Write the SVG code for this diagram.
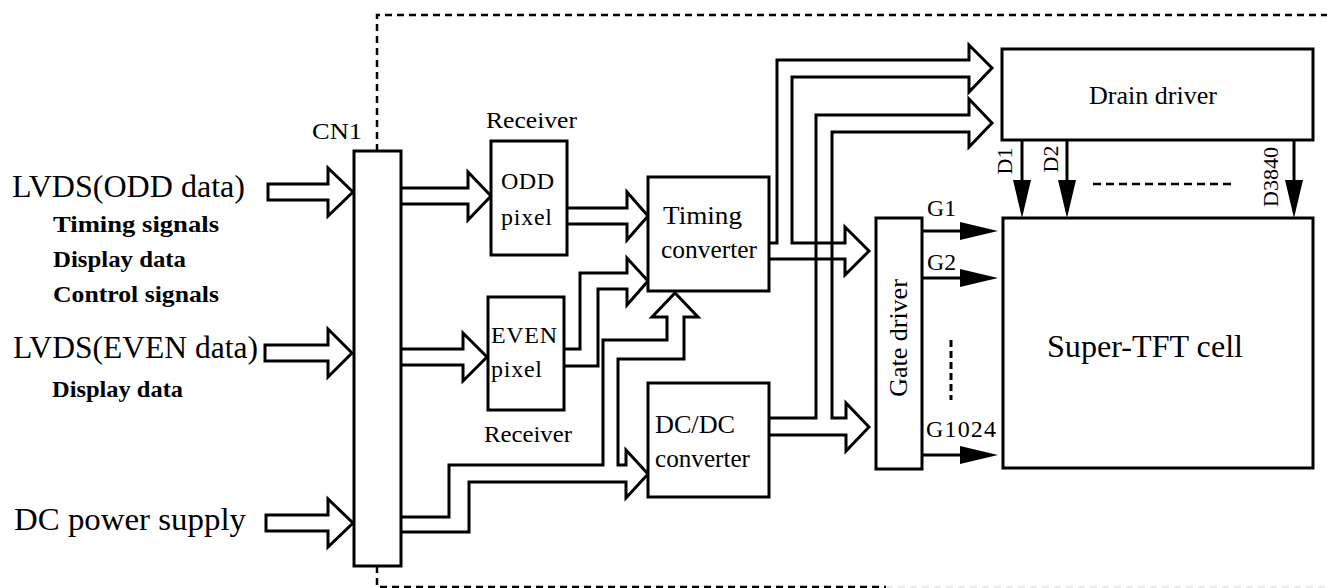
<svg xmlns="http://www.w3.org/2000/svg" width="1327" height="588" viewBox="0 0 1327 588">
<style>
.box{fill:#fff;stroke:#000;stroke-width:3}
.pipe{fill:none;stroke:#000;stroke-width:3;stroke-linejoin:miter}
.blk{fill:#fff;stroke:#000;stroke-width:3;stroke-linejoin:miter}
.ln{fill:none;stroke:#000;stroke-width:3}
.dash{fill:none;stroke:#000;stroke-width:2.5;stroke-dasharray:7 5}
.tri{fill:#000;stroke:none}
text{font-family:"Liberation Serif","Times New Roman",serif;fill:#000}
.big{font-size:31px}
.sub{font-size:24px;font-weight:bold}
.lbl{font-size:24px}
.mid{font-size:26px}
.cell{font-size:32px}
.gl{font-size:24px}
.dl{font-size:22px}
</style>
<rect width="1327" height="588" fill="#fff"/>

<g id="border">
<path class="dash" d="M377,151 V15 H1327"/>
<path class="dash" d="M377,566 V587 H886"/>
<path d="M886,587 H1327" fill="none" stroke="#ececec" stroke-width="2.5" stroke-dasharray="7 5"/>
</g>

<g id="connectors">
<polygon class="blk" points="268,184 328,184 328,168 353,192 328,216 328,200 268,200"/>
<polygon class="blk" points="265,345 328,345 328,329 352,353 328,377 328,361 265,361"/>
<polygon class="blk" points="266,515 328,515 328,499 353,523 328,547 328,531 266,531"/>
<polyline class="pipe" points="401,188 468,188 468,172 491,196 468,220 468,204 401,204"/>
<polyline class="pipe" points="567,208 627,208 627,192 648,216 627,240 627,224 567,224"/>
<polyline class="pipe" points="401,349 463,349 463,333 487,357 463,381 463,365 401,365"/>
<polyline class="pipe" points="564,349 580,349 580,273 627,273 627,258 648,281 627,305 627,289 598,289 598,366 564,366"/>
<polyline class="pipe" points="401,517 449,517 449,465 603,465 603,340 667,340 667,317 652,317 675,293 698,317 684,317 684,359 618,359 618,465 626,465 626,450 648,474 626,498 626,482 469,482 469,532 401,532"/>
<polyline class="pipe" points="769,243 777,243 777,60 969,60 969,45 992,68 969,92 969,77 792,77 792,243 845,243 845,227 869,251 845,275 845,259 769,259"/>
<polyline class="pipe" points="769,418 816,418 816,115 969,115 969,99 992,123 969,147 969,132 832,132 832,418 846,418 846,403 869,427 846,451 846,435 769,435"/>
<line class="ln" x1="922" y1="231" x2="962" y2="231"/>
<polygon class="tri" points="960,222 998,231 960,240"/>
<line class="ln" x1="922" y1="278" x2="962" y2="278"/>
<polygon class="tri" points="960,269 998,278 960,287"/>
<line class="ln" x1="922" y1="455" x2="962" y2="455"/>
<polygon class="tri" points="960,446 998,455 960,464"/>
<line x1="951" y1="340" x2="951" y2="400" stroke="#000" stroke-width="3" stroke-dasharray="7 4"/>
<line class="ln" x1="1022" y1="140" x2="1022" y2="182"/>
<polygon class="tri" points="1013,180 1031,180 1022,218"/>
<line class="ln" x1="1067" y1="140" x2="1067" y2="182"/>
<polygon class="tri" points="1058,180 1076,180 1067,218"/>
<line class="ln" x1="1294" y1="140" x2="1294" y2="182"/>
<polygon class="tri" points="1285,180 1303,180 1294,218"/>
<line x1="1093" y1="184" x2="1233" y2="184" stroke="#000" stroke-width="2.5" stroke-dasharray="8 5"/>
</g>

<g id="inputs">
<text class="big" x="12" y="197" textLength="233" lengthAdjust="spacingAndGlyphs">LVDS(ODD data)</text>
<text class="sub" x="53" y="232" textLength="166" lengthAdjust="spacingAndGlyphs">Timing signals</text>
<text class="sub" x="53" y="267" textLength="133" lengthAdjust="spacingAndGlyphs">Display data</text>
<text class="sub" x="53" y="302" textLength="166" lengthAdjust="spacingAndGlyphs">Control signals</text>
<text class="big" x="13" y="358" textLength="245" lengthAdjust="spacingAndGlyphs">LVDS(EVEN data)</text>
<text class="sub" x="52" y="397" textLength="131" lengthAdjust="spacingAndGlyphs">Display data</text>
<text class="big" x="14" y="530" textLength="232" lengthAdjust="spacingAndGlyphs">DC power supply</text>
</g>

<g id="cn1">
<rect class="box" x="354" y="151" width="47" height="415"/>
<text class="lbl" x="312" y="139" textLength="50" lengthAdjust="spacingAndGlyphs">CN1</text>
</g>

<g id="odd-receiver">
<rect class="box" x="491" y="141" width="76" height="114"/>
<text class="lbl" x="486" y="128" textLength="91" lengthAdjust="spacingAndGlyphs">Receiver</text>
<text class="lbl" x="501" y="189" textLength="53" lengthAdjust="spacing">ODD</text>
<text class="lbl" x="501" y="225" textLength="51" lengthAdjust="spacing">pixel</text>
</g>

<g id="even-receiver">
<rect class="box" x="488" y="297" width="76" height="113"/>
<text class="lbl" x="491" y="343" textLength="66" lengthAdjust="spacing">EVEN</text>
<text class="lbl" x="491" y="377" textLength="51" lengthAdjust="spacing">pixel</text>
<text class="lbl" x="484" y="442" textLength="88" lengthAdjust="spacingAndGlyphs">Receiver</text>
</g>

<g id="timing-converter">
<rect class="box" x="648" y="177" width="121" height="114"/>
<text class="mid" x="663" y="224" textLength="79" lengthAdjust="spacingAndGlyphs">Timing</text>
<text class="mid" x="661" y="258" textLength="96" lengthAdjust="spacingAndGlyphs">converter</text>
</g>

<g id="dcdc-converter">
<rect class="box" x="648" y="383" width="121" height="114"/>
<text class="mid" x="655" y="433" textLength="80" lengthAdjust="spacingAndGlyphs">DC/DC</text>
<text class="mid" x="655" y="467" textLength="95" lengthAdjust="spacingAndGlyphs">converter</text>
</g>

<g id="drain-driver">
<rect class="box" x="1002" y="49" width="311" height="91"/>
<text class="mid" x="1089" y="104" textLength="128" lengthAdjust="spacingAndGlyphs">Drain driver</text>
<text class="dl" x="1012" y="161" text-anchor="middle" transform="rotate(-90 1012 161)">D1</text>
<text class="dl" x="1058" y="159" text-anchor="middle" transform="rotate(-90 1058 159)">D2</text>
<text class="dl" x="1278" y="177" text-anchor="middle" transform="rotate(-90 1278 177)">D3840</text>
</g>

<g id="gate-driver">
<rect class="box" x="876" y="218" width="46" height="251"/>
<text class="mid" x="907" y="338" text-anchor="middle" transform="rotate(-90 907 338)">Gate driver</text>
<text class="gl" x="927" y="216" textLength="29" lengthAdjust="spacingAndGlyphs">G1</text>
<text class="gl" x="927" y="270" textLength="29" lengthAdjust="spacingAndGlyphs">G2</text>
<text class="gl" x="926" y="437" textLength="70" lengthAdjust="spacing">G1024</text>
</g>

<g id="super-tft-cell">
<rect class="box" x="1003" y="218" width="310" height="250"/>
<text class="cell" x="1047" y="357" textLength="196" lengthAdjust="spacingAndGlyphs">Super-TFT cell</text>
</g>
</svg>
